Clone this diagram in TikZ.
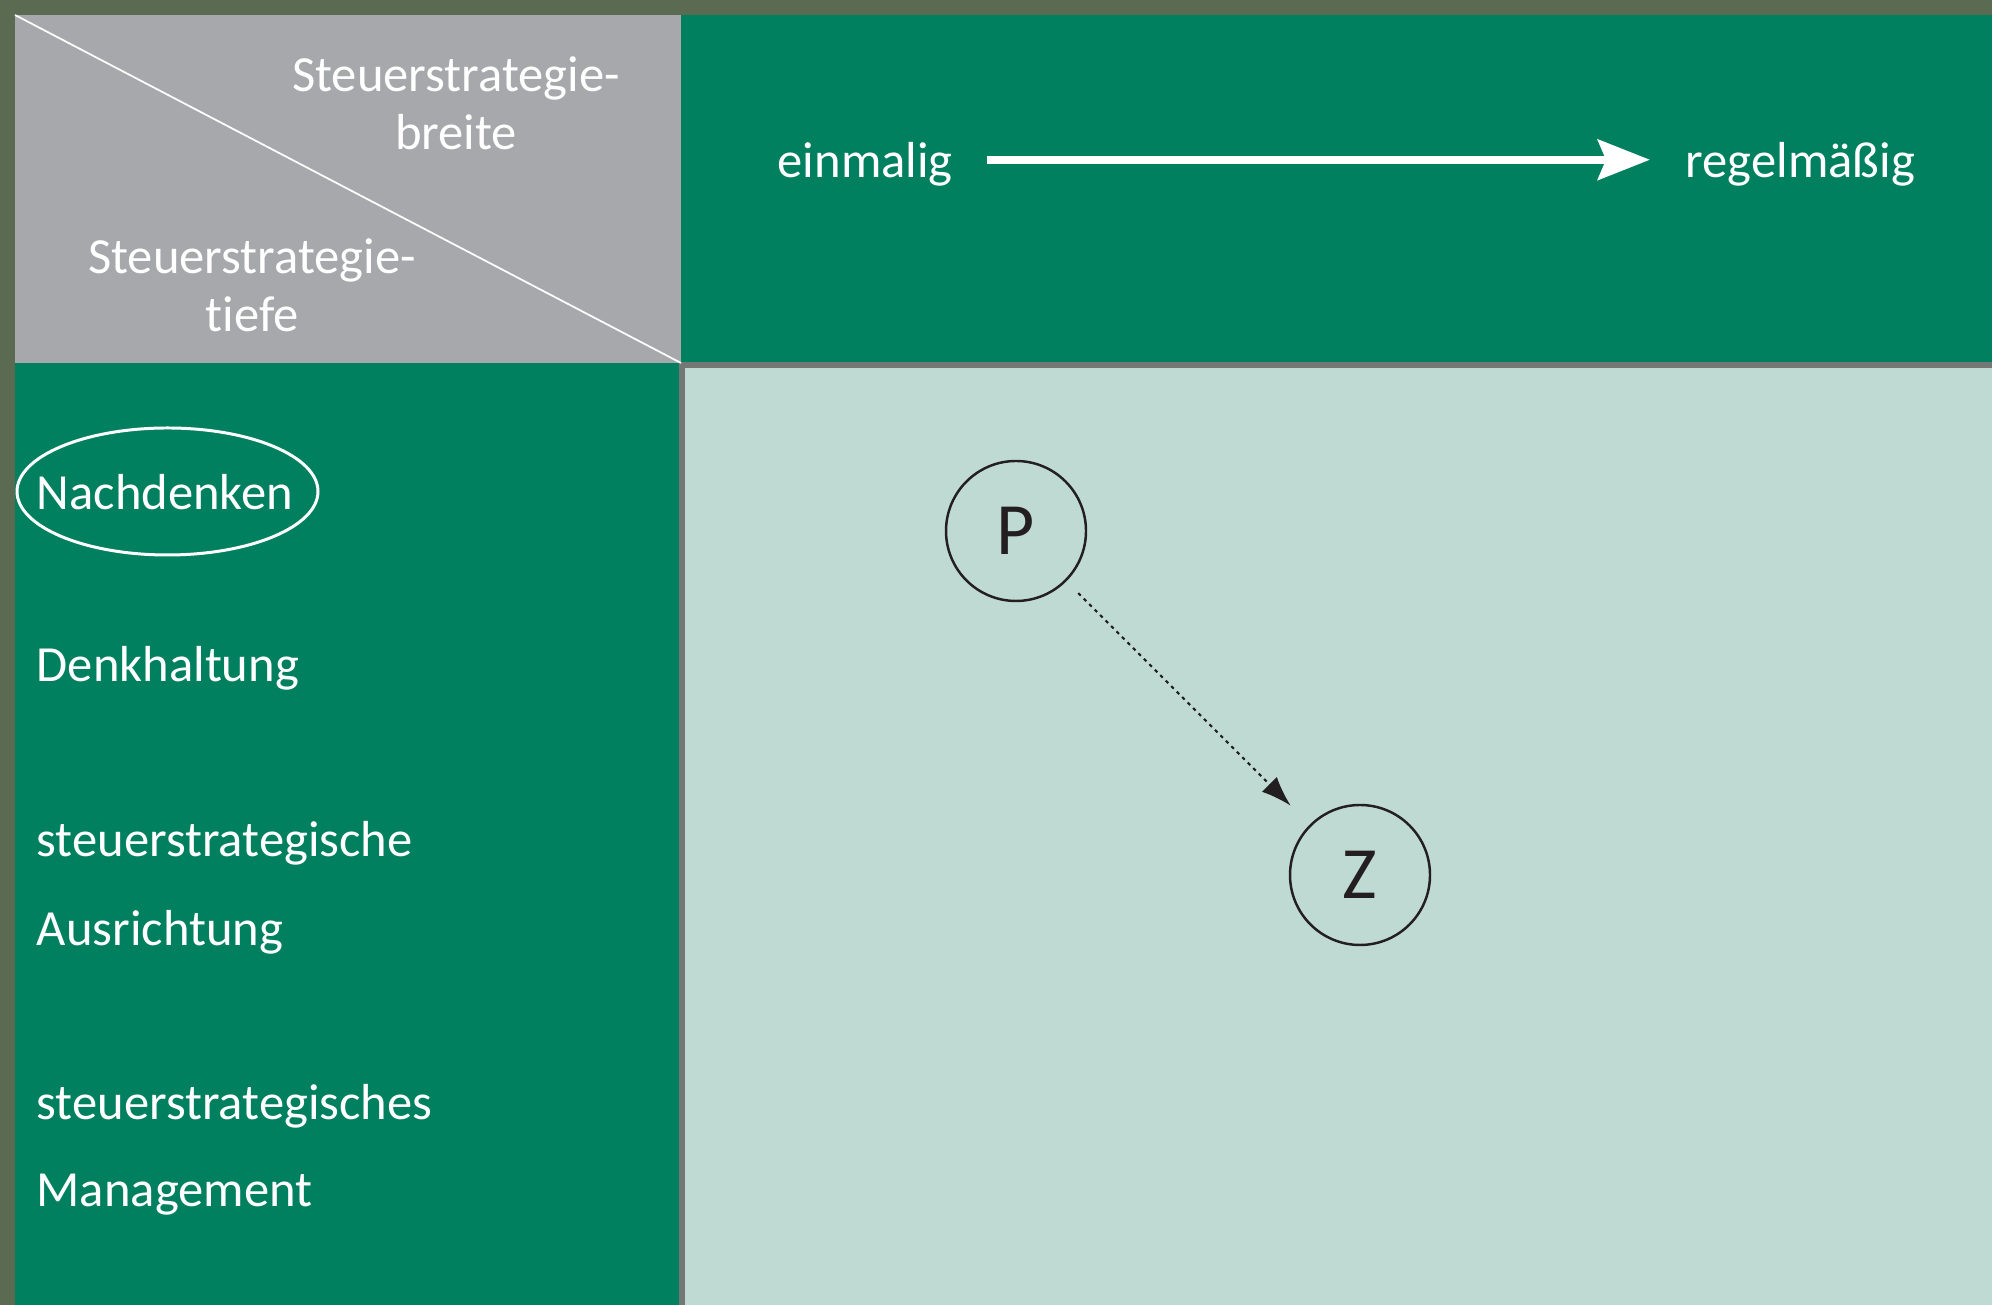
\documentclass[tikz,border=0pt]{standalone}
\usepackage{fontspec}
\setmainfont{Carlito}[Ligatures=NoCommon]
\usepackage{tikz}
\usepackage{tkz-graph}
\usepackage{xcolor}
\usetikzlibrary{arrows.meta,shapes.geometric}

\definecolor{frame}{HTML}{5B6B52}
\definecolor{tabgreen}{HTML}{00805F}
\definecolor{tabgray}{HTML}{A7A8AB}
\definecolor{cellbg}{HTML}{BFDAD2}
\definecolor{rulegray}{HTML}{737875}
\definecolor{ink}{HTML}{231F20}

\tikzset{
  celltext/.style={text=white, inner sep=0pt, font=\fontsize{14.4}{16.5}\selectfont},
  rowlabel/.style={celltext, anchor=base west},
  cornertext/.style={celltext, align=center}
}

\begin{document}
\begin{tikzpicture}
%\draw[help lines] (0,0) grid (20,13);
\SetVertexNormal[
Shape 		= circle,
LineWidth 	= 0.7pt]
\tikzset{VertexStyle/.append style={fill=cellbg, draw=ink, text=ink,
  minimum size=1.4cm, inner sep=0pt, font=\fontsize{21}{24}\selectfont}}

\useasboundingbox (0,0) rectangle (19.92,13.05);
% cells
\fill[frame] (-0.1,-0.1) rectangle (20.1,13.15);
\fill[tabgray] (0.15,9.42) rectangle (6.81,12.90);
\fill[tabgreen] (6.81,9.42) rectangle (20.1,12.90);
\fill[tabgreen] (0.15,-0.1) rectangle (6.81,9.42);
\fill[cellbg] (6.81,-0.1) rectangle (20.1,9.42);
\draw[rulegray, line width=0.06cm] (6.82,-0.1) -- (6.82,9.40) -- (20.1,9.40);

\coordinate (tl) at (0.15,12.90);
\coordinate (br) at (6.81,9.42);
\draw[white, line width=0.5pt] (tl) -- (br);

\node[cornertext] (breite) at (4.56,12.02) {Steuerstrategie-\\breite};
\node[cornertext] (tiefe) at (2.52,10.20) {Steuerstrategie-\\tiefe};

% axis
\node[celltext, anchor=base west] (ein) at (7.77,11.27) {einmalig};
\node[celltext, anchor=base west] (reg) at (16.85,11.27) {regelmäßig};
\draw[white, line width=0.085cm, -{Stealth[length=0.52cm, width=0.40cm, inset=0.08cm]}]
  ([xshift=0.33cm, yshift=0.05cm]ein.east) -- ([xshift=-0.35cm, yshift=0.05cm]reg.west);

% rows
\node[rowlabel] (nach) at (0.36,7.95) {Nachdenken};
\node[rowlabel] (denk) at (0.36,6.23) {Denkhaltung};
\node[rowlabel] (ausr1) at (0.36,4.48) {steuerstrategische};
\node[rowlabel] (ausr2) at (0.36,3.59) {Ausrichtung};
\node[rowlabel] (mgmt1) at (0.36,1.85) {steuerstrategisches};
\node[rowlabel] (mgmt2) at (0.36,0.98) {Management};
\node[draw=white, line width=0.85pt, ellipse, inner sep=0pt,
  minimum width=3.01cm, minimum height=1.27cm] (ring) at (1.675,8.135) {};

\Vertex[x=10.16,y=7.74]{P}
\Vertex[x=13.60,y=4.30]{Z}

\draw[ink, line width=0.6pt, dash pattern=on 1pt off 1.2pt,
  -{Latex[length=0.3cm, width=0.21cm]}, shorten <=0.18cm, shorten >=0.28cm] (P) -- (Z);
\end{tikzpicture}
\end{document}
